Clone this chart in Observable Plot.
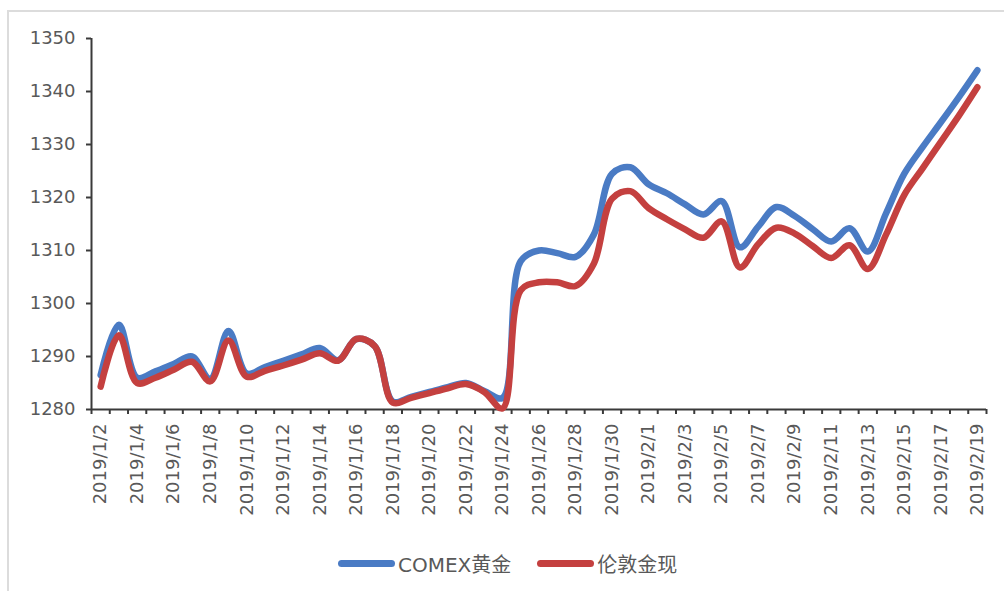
<!DOCTYPE html>
<html>
<head>
<meta charset="utf-8">
<script src="https://cdn.jsdelivr.net/npm/d3@7"></script>
<script src="https://cdn.jsdelivr.net/npm/@observablehq/plot@0.6"></script>
<style>
  body { margin: 0; background: #fff; font-family: "DejaVu Sans", sans-serif; }
  #frame { position: absolute; left: 7px; top: 10px; width: 1100px; height: 700px;
           border-top: 2px solid #dcdcdc; border-left: 2px solid #dcdcdc; box-sizing: border-box; }
  #chart { position: absolute; left: 0; top: 0; }
  #legend { position: absolute; left: 338px; top: 549px; display: flex; align-items: center;
            font-family: "DejaVu Sans", "Noto Sans CJK SC", sans-serif; font-size: 20px; color: #595959; }
  .item { display: flex; align-items: center; margin-right: 26px; }
  .swatch { display: inline-block; width: 57px; height: 7px; border-radius: 4px; margin-right: 3px; }
</style>
</head>
<body>
<div id="frame"></div>
<div id="chart"></div>
<div id="legend"></div>
<script>
// Trading calendar (daily categories)
const dates = [
  "2019/1/2","2019/1/3","2019/1/4","2019/1/5","2019/1/6","2019/1/7","2019/1/8","2019/1/9",
  "2019/1/10","2019/1/11","2019/1/12","2019/1/13","2019/1/14","2019/1/15","2019/1/16","2019/1/17",
  "2019/1/18","2019/1/19","2019/1/20","2019/1/21","2019/1/22","2019/1/23","2019/1/24","2019/1/25",
  "2019/1/26","2019/1/27","2019/1/28","2019/1/29","2019/1/30","2019/1/31","2019/2/1","2019/2/2",
  "2019/2/3","2019/2/4","2019/2/5","2019/2/6","2019/2/7","2019/2/8","2019/2/9","2019/2/10",
  "2019/2/11","2019/2/12","2019/2/13","2019/2/14","2019/2/15","2019/2/16","2019/2/17","2019/2/18",
  "2019/2/19"
];

// COMEX gold futures price
const comex = [
  1286.5, 1296.0, 1286.0, 1287.2, 1288.6, 1290.0, 1285.8, 1294.8,
  1286.8, 1288.0, 1289.2, 1290.4, 1291.6, 1289.3, 1293.3, 1292.0,
  1281.5, 1282.4, 1283.3, 1284.2, 1285.0, 1283.5, 1282.2, 1308.0,
  1310.0, 1309.5, 1308.8, 1313.0, 1324.5, 1325.7, 1322.5, 1320.8,
  1318.7, 1316.8, 1319.3, 1310.6, 1314.5, 1318.2, 1316.5, 1314.0,
  1311.7, 1314.2, 1309.8, 1317.0, 1324.5, 1329.5, 1334.2, 1339.0,
  1344.0
];

// London spot gold price
const london = [
  1284.3, 1294.0, 1285.0, 1286.0, 1287.5, 1289.0, 1285.3, 1293.0,
  1286.2, 1287.3, 1288.3, 1289.4, 1290.6, 1289.2, 1293.3, 1292.0,
  1281.3, 1282.2, 1283.1, 1284.0, 1284.8, 1283.3, 1280.2, 1302.5,
  1304.0, 1304.0, 1303.3, 1307.5, 1319.8, 1321.2, 1318.0, 1315.9,
  1314.0, 1312.4, 1315.5, 1306.8, 1311.2, 1314.3, 1313.2, 1310.8,
  1308.6, 1311.0, 1306.5, 1313.0, 1320.5, 1325.5, 1330.5, 1335.5,
  1340.8
];

const seriesNames = ["COMEX黄金", "伦敦金现"];
const seriesColors = ["#4a7bc4", "#c4403f"];
const yTicks = [1280, 1290, 1300, 1310, 1320, 1330, 1340, 1350];

const idx = dates.map((d, i) => i);
const labelIdx = idx.filter(i => i % 2 === 0);
const boundaries = [...idx.map(i => i - 0.5), dates.length - 0.5];
const rows = (values) => values.map((v, i) => ({i, v}));

const axisColor = "#3a3a3a";
const textColor = "#595959";

const chart = Plot.plot({
  width: 1004,
  height: 530,
  marginLeft: 91,
  marginRight: 18,
  marginTop: 38,
  marginBottom: 121,
  style: {fontFamily: "DejaVu Sans", fontSize: "18px", color: textColor, background: "transparent"},
  x: {type: "linear", domain: [-0.5, dates.length - 0.5], axis: null},
  y: {domain: [1280, 1350], axis: null},
  marks: [
    Plot.axisY(yTicks, {tickSize: 5, tickPadding: 11, tickFormat: d => String(d), label: null,
                        stroke: axisColor, strokeWidth: 2, fill: textColor, fontSize: 18}),
    Plot.axisX(boundaries, {tickSize: 5, tickFormat: () => "", label: null, stroke: axisColor, strokeWidth: 2}),
    Plot.text(labelIdx, {
      x: d => d, frameAnchor: "bottom", dy: 14, rotate: -90,
      textAnchor: "end", lineAnchor: "middle",
      text: i => dates[i], fill: textColor, fontSize: 18
    }),
    Plot.ruleX([-0.5], {x: d => d, y1: 1280, y2: 1350, stroke: axisColor, strokeWidth: 2}),
    Plot.ruleY([1280], {stroke: axisColor, strokeWidth: 2}),
    Plot.line(rows(comex), {x: "i", y: "v", stroke: seriesColors[0], strokeWidth: 6.5, curve: "catmull-rom"}),
    Plot.line(rows(london), {x: "i", y: "v", stroke: seriesColors[1], strokeWidth: 6.5, curve: "catmull-rom"})
  ]
});
document.getElementById("chart").appendChild(chart);

// Legend
const legend = document.getElementById("legend");
seriesNames.forEach((name, k) => {
  const item = document.createElement("div");
  item.className = "item";
  const sw = document.createElement("span");
  sw.className = "swatch";
  sw.style.background = seriesColors[k];
  const label = document.createElement("span");
  label.textContent = name;
  item.appendChild(sw);
  item.appendChild(label);
  legend.appendChild(item);
});
</script>
</body>
</html>
